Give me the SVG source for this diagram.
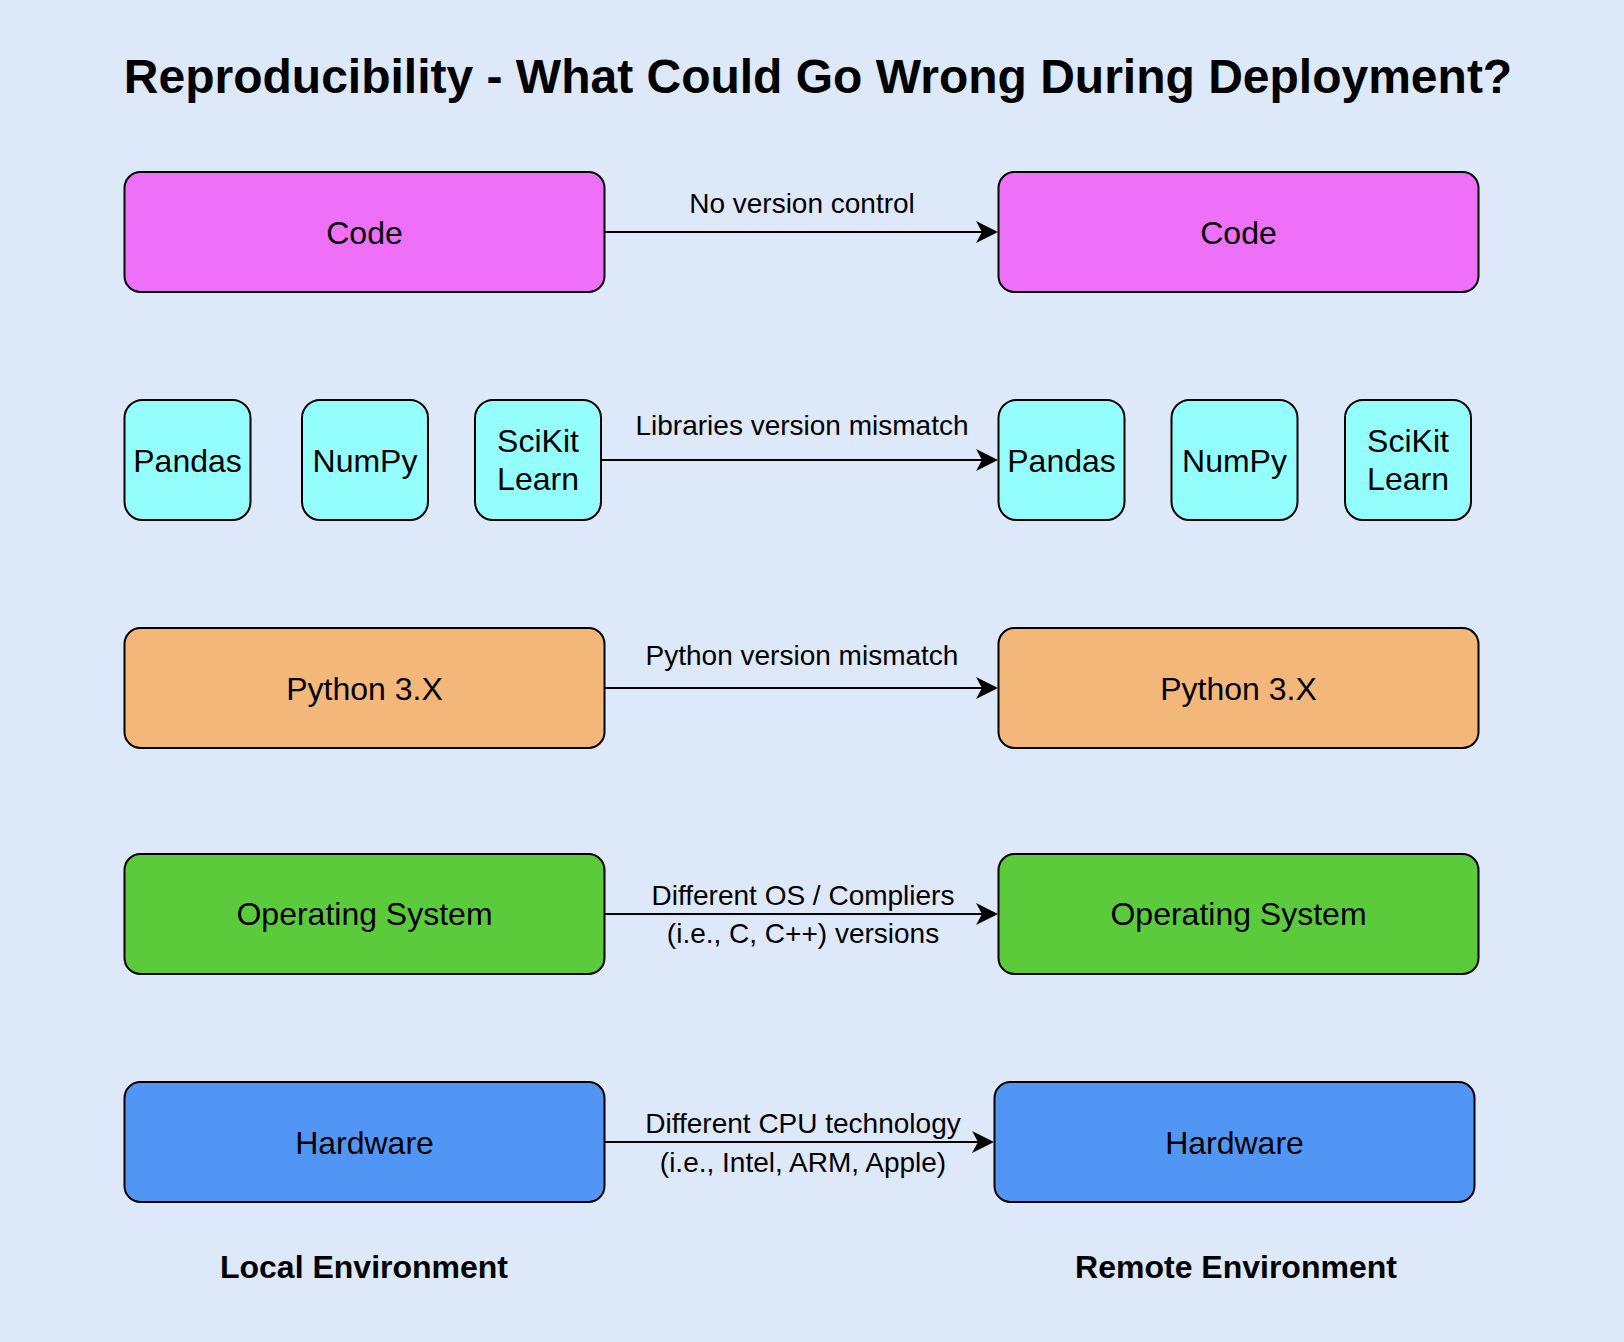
<svg xmlns="http://www.w3.org/2000/svg" width="1624" height="1342" viewBox="0 0 1624 1342">
<defs>
<style>
.box{stroke:#000;stroke-width:2}
.code{fill:#ee70f8}
.lib{fill:#94fefd}
.py{fill:#f4b77a}
.os{fill:#5bcb3c}
.hw{fill:#5296f5}
.lbl{font-family:"Liberation Sans",Arial,Helvetica,sans-serif;font-size:32px;fill:#000;text-anchor:middle}
.elbl{font-family:"Liberation Sans",Arial,Helvetica,sans-serif;font-size:28px;fill:#000;text-anchor:middle}
.bold{font-family:"Liberation Sans",Arial,Helvetica,sans-serif;font-weight:bold;fill:#000;text-anchor:middle}
.edge{stroke:#000;stroke-width:2;fill:none;marker-end:url(#arr)}
</style>
<marker id="arr" viewBox="0 0 22 22" refX="6" refY="11" markerWidth="22" markerHeight="22" markerUnits="userSpaceOnUse" orient="auto">
<path d="M22,11 L0,0 L6,11 L0,22 Z" fill="#000"/>
</marker>
</defs>
<rect x="0" y="0" width="1624" height="1342" fill="#dde8f8"/>
<text id="title" class="bold" x="818" y="93" font-size="48">Reproducibility - What Could Go Wrong During Deployment?</text>

<g id="connectors">
<line class="edge" x1="605" y1="232" x2="982" y2="232"/>
<line class="edge" x1="601" y1="460" x2="982" y2="460"/>
<line class="edge" x1="605" y1="688" x2="982" y2="688"/>
<line class="edge" x1="605" y1="914" x2="982" y2="914"/>
<line class="edge" x1="605" y1="1142" x2="978" y2="1142"/>
<text class="elbl" x="802" y="213">No version control</text>
<text class="elbl" x="802" y="435">Libraries version mismatch</text>
<text class="elbl" x="802" y="665">Python version mismatch</text>
<text class="elbl" x="803" y="905">Different OS / Compliers</text>
<text class="elbl" x="803" y="943">(i.e., C, C++) versions</text>
<text class="elbl" x="803" y="1133">Different CPU technology</text>
<text class="elbl" x="803" y="1172">(i.e., Intel, ARM, Apple)</text>
</g>

<g id="code-local"><rect class="box code" x="124.5" y="172" width="480" height="120" rx="16"/><text class="lbl" x="364.5" y="243.5">Code</text></g>
<g id="code-remote"><rect class="box code" x="998.5" y="172" width="480" height="120" rx="16"/><text class="lbl" x="1238.5" y="243.5">Code</text></g>

<g id="pandas-local"><rect class="box lib" x="124.5" y="400" width="126" height="120" rx="18"/><text class="lbl" x="187.5" y="471.5">Pandas</text></g>
<g id="numpy-local"><rect class="box lib" x="302" y="400" width="126" height="120" rx="18"/><text class="lbl" x="365" y="471.5">NumPy</text></g>
<g id="scikit-local"><rect class="box lib" x="475" y="400" width="126" height="120" rx="18"/><text class="lbl" x="538" y="452">SciKit</text><text class="lbl" x="538" y="490">Learn</text></g>
<g id="pandas-remote"><rect class="box lib" x="998.5" y="400" width="126" height="120" rx="18"/><text class="lbl" x="1061.5" y="471.5">Pandas</text></g>
<g id="numpy-remote"><rect class="box lib" x="1171.5" y="400" width="126" height="120" rx="18"/><text class="lbl" x="1234.5" y="471.5">NumPy</text></g>
<g id="scikit-remote"><rect class="box lib" x="1345" y="400" width="126" height="120" rx="18"/><text class="lbl" x="1408" y="452">SciKit</text><text class="lbl" x="1408" y="490">Learn</text></g>

<g id="python-local"><rect class="box py" x="124.5" y="628" width="480" height="120" rx="16"/><text class="lbl" x="364.5" y="699.5">Python 3.X</text></g>
<g id="python-remote"><rect class="box py" x="998.5" y="628" width="480" height="120" rx="16"/><text class="lbl" x="1238.5" y="699.5">Python 3.X</text></g>

<g id="os-local"><rect class="box os" x="124.5" y="854" width="480" height="120" rx="16"/><text class="lbl" x="364.5" y="925">Operating System</text></g>
<g id="os-remote"><rect class="box os" x="998.5" y="854" width="480" height="120" rx="16"/><text class="lbl" x="1238.5" y="925">Operating System</text></g>

<g id="hw-local"><rect class="box hw" x="124.5" y="1082" width="480" height="120" rx="16"/><text class="lbl" x="364.5" y="1153.5">Hardware</text></g>
<g id="hw-remote"><rect class="box hw" x="994.5" y="1082" width="480" height="120" rx="16"/><text class="lbl" x="1234.5" y="1153.5">Hardware</text></g>

<text id="local-env" class="bold" x="364" y="1278" font-size="32">Local Environment</text>
<text id="remote-env" class="bold" x="1236" y="1278" font-size="32">Remote Environment</text>
</svg>
